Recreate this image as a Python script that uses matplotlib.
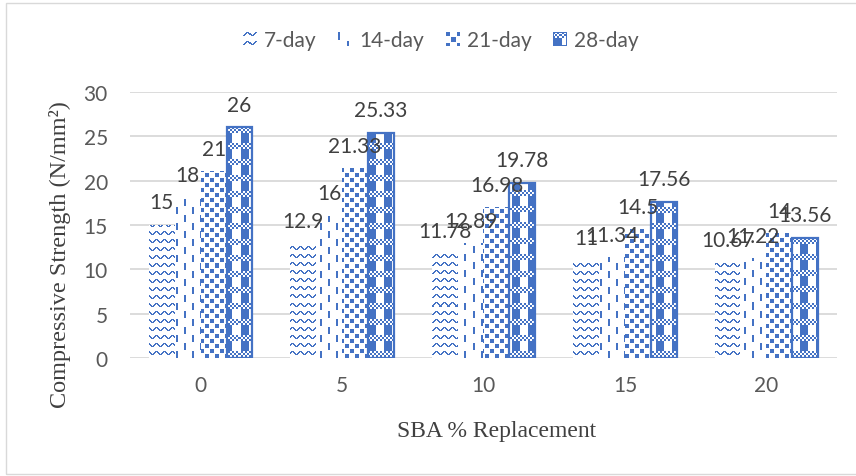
import numpy as np
import matplotlib
matplotlib.use("Agg")
import matplotlib.pyplot as plt
from matplotlib.patches import Patch, Rectangle
from matplotlib.legend_handler import HandlerBase
from matplotlib.image import BboxImage
from matplotlib.transforms import Bbox, TransformedBbox

# compressive strength (N/mm2) per SBA replacement level
replacement = ["0", "5", "10", "15", "20"]
series_names = ["7-day", "14-day", "21-day", "28-day"]
day7 = [15, 12.9, 11.78, 11, 10.67]
day14 = [18, 16, 12.89, 11.34, 11.22]
day21 = [21, 21.33, 16.98, 14.5, 14]
day28 = [26, 25.33, 19.78, 17.56, 13.56]

BLUE = np.array([0x44, 0x72, 0xC4]) / 255.0
W_PX, H_PX = 856, 477


def tile_zigzag():
    t = np.zeros((8, 8), bool)
    ys = [3, 2, 1, 0, 0, 1, 2, 3]
    for x, y in enumerate(ys):
        t[y, x] = True
        t[y, (x + 1) % 8] = True
    return t


def tile_dashes():
    t = np.zeros((16, 16), bool)
    t[0:7, 0:2] = True
    t[8:15, 8:10] = True
    return t


def tile_squares():
    t = np.zeros((10, 10), bool)
    t[0:4, 0:4] = True
    t[5:9, 5:9] = True
    return t


def tile_plaid():
    t = np.zeros((16, 16), bool)
    yy, xx = np.mgrid[0:6, 0:16]
    t[0:6, :] = ((yy // 2 + xx // 2) % 2) == 0
    t[6:16, 0:8] = True
    return t


tiles = [tile_zigzag(), tile_dashes(), tile_squares(), tile_plaid()]


def pattern_rgba(tile, top, left, rows, cols):
    yy, xx = np.mgrid[top:top + rows, left:left + cols]
    mask = tile[yy % tile.shape[0], xx % tile.shape[1]]
    img = np.ones((rows, cols, 4))
    img[mask, :3] = BLUE
    return img


plt.rcParams['font.family'] = ['Lato', 'DejaVu Sans']

fig = plt.figure(figsize=(W_PX / 100, H_PX / 100), dpi=100)
ax = fig.add_axes([130 / W_PX, 1 - 359 / H_PX, 707 / W_PX, 266 / H_PX])
ax.set_xlim(-0.5, len(replacement) - 0.5)
ax.set_ylim(0, 30)

x = np.arange(len(replacement))
bw = 0.183
all_series = [day7, day14, day21, day28]
for i, (vals, tile) in enumerate(zip(all_series, tiles)):
    offs = (i - 1.5) * bw
    edge = BLUE if i == 3 else 'none'
    bars = ax.bar(x + offs, vals, width=bw, facecolor='none', edgecolor=edge,
                  linewidth=1.6 if i == 3 else 0, zorder=3)
    for patch, v in zip(bars, vals):
        x0, y0 = patch.get_x(), patch.get_y()
        w, h = patch.get_width(), patch.get_height()
        (px0, py0), (px1, py1) = ax.transData.transform([(x0, y0), (x0 + w, y0 + h)])
        cols = int(round(px1)) - int(round(px0))
        rows = int(round(py1)) - int(round(py0))
        img = pattern_rgba(tile, H_PX - int(round(py1)), int(round(px0)), rows, cols)
        ax.imshow(img, extent=(x0, x0 + w, y0, y0 + h), aspect='auto',
                  interpolation='nearest', zorder=2)
        ax.annotate(f"{v:g}", (x0 + w / 2, y0 + h), xytext=(0, 16.5),
                    textcoords='offset points', ha='center', va='center',
                    fontsize=15, color='#404040', zorder=5)

ax.set_xlim(-0.5, len(replacement) - 0.5)
ax.set_ylim(0, 30)
ax.set_yticks(range(0, 31, 5))
ax.set_xticks(x)
ax.set_xticklabels(replacement)
ax.yaxis.grid(True, color='#D9D9D9', linewidth=1.3, zorder=0)
ax.set_axisbelow(True)
for s in ax.spines.values():
    s.set_visible(False)
ax.tick_params(axis='both', length=0, labelsize=15, labelcolor='#595959')
ax.tick_params(axis='x', pad=12)
ax.tick_params(axis='y', pad=16)

fig.text(60 / W_PX, 1 - 255 / H_PX, "Compressive Strength (N/mm²)", rotation=90,
         ha='center', va='center', fontsize=17.5, color='#404040',
         family=['Liberation Serif', 'DejaVu Serif'])
fig.text(497 / W_PX, 1 - 432 / H_PX, "SBA % Replacement", ha='center', va='center',
         fontsize=17, color='#404040', family=['Liberation Serif', 'DejaVu Serif'])


class HandlerSwatch(HandlerBase):
    def __init__(self, tile, border=False):
        super().__init__()
        self.tile = tile
        self.border = border

    def create_artists(self, legend, orig_handle, xdescent, ydescent, width, height,
                       fontsize, trans):
        img = pattern_rgba(self.tile, 0, 0, 13, 13)
        if self.border:
            img[0, :, :3] = BLUE
            img[-1, :, :3] = BLUE
            img[:, 0, :3] = BLUE
            img[:, -1, :3] = BLUE
        bb = Bbox.from_bounds(-xdescent, -ydescent, width, height)
        art = BboxImage(TransformedBbox(bb, trans), interpolation='nearest')
        art.set_data(img)
        return [art]


handles = [Patch(label=n) for n in series_names]
hmap = {h: HandlerSwatch(t, border=(k == 3)) for k, (h, t) in enumerate(zip(handles, tiles))}
fig.legend(handles=handles, handler_map=hmap, loc='center',
           bbox_to_anchor=(441 / W_PX, 1 - 41 / H_PX), ncol=4, frameon=False,
           fontsize=15, labelcolor='#595959', handlelength=0.65, handleheight=0.65,
           handletextpad=0.35, columnspacing=1.05)

fig.patches.append(Rectangle((6 / W_PX, 2 / H_PX), 1.0, 1 - 6 / H_PX,
                             transform=fig.transFigure, fill=False,
                             edgecolor='#D9D9D9', linewidth=1.0))

fig.savefig("out.png", dpi=100)
